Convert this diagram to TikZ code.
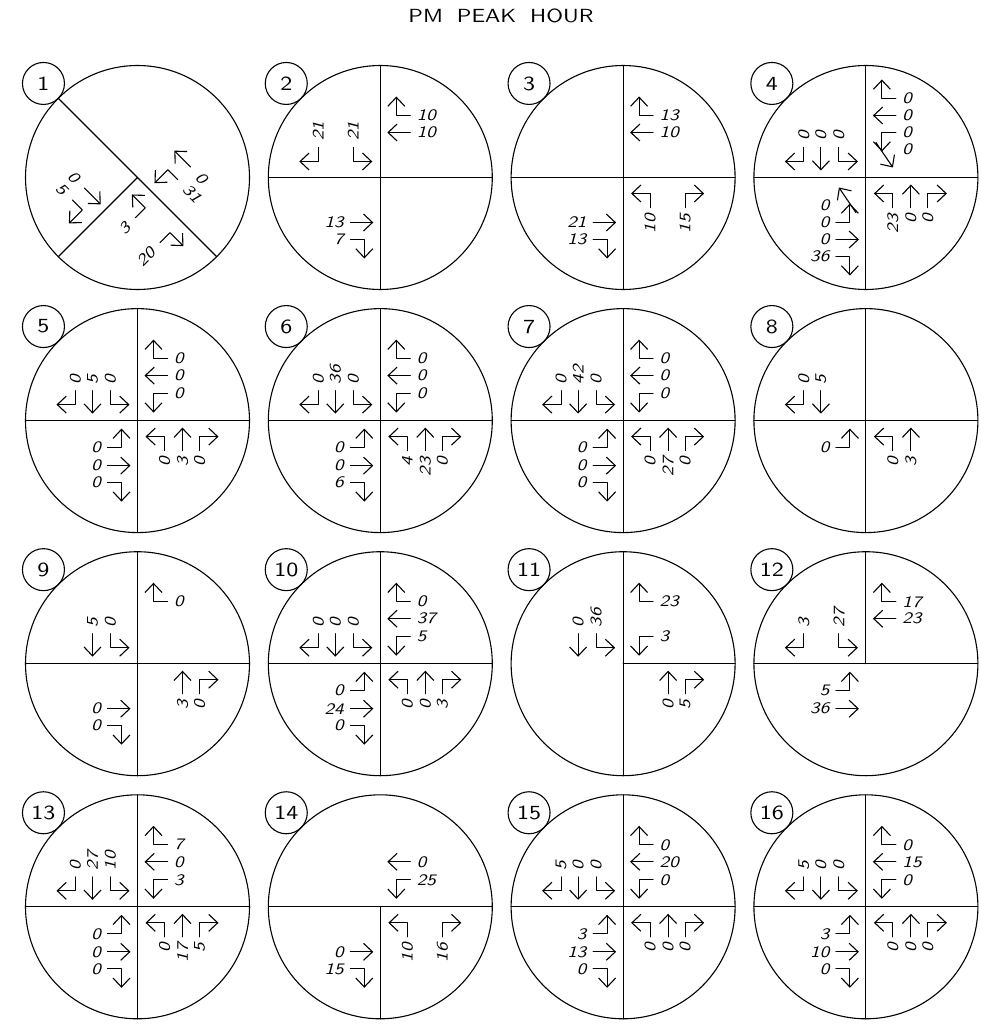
\documentclass[tikz,border=0pt]{standalone}
\usepackage{fontspec}
\newfontfamily\cad{lmsans10-regular.otf}[FakeStretch=1.2, ItalicFont=lmsans10-oblique.otf]
\usetikzlibrary{arrows.meta}
\tikzset{
  ring/.style={circle, draw, minimum size=224pt, inner sep=0pt, outer sep=0pt},
  tag/.style={circle, draw, minimum size=42pt, inner sep=0pt, outer sep=0pt,
    font=\cad\fontsize{20}{20}\selectfont},
  vol/.style={inner sep=0pt, font=\cad\itshape\fontsize{16}{16}\selectfont},
}
% slots of one approach, drawn as southbound (upper left quarter)
\newcommand{\sR}{-62}
\newcommand{\sT}{-45}
\newcommand{\sL}{-27}
\newcommand{\sD}{36}
\newcommand{\rturn}[1]{\draw[->] (#1,30) -- (#1,16) -- ++(-19,0);}
\newcommand{\lturn}[1]{\draw[->] (#1,30) -- (#1,16) -- ++(19,0);}
\newcommand{\thru}[1]{\draw[->] (#1,30) -- (#1,7);}
\newcommand{\ifgiven}[2]{\if\relax\detokenize{#1}\relax\else#2\fi}
% rotation, label style, right, through, left
\newcommand{\approach}[5]{%
  \begin{scope}[rotate=#1]
    \ifgiven{#3}{\rturn{\sR}\node[vol,#2] at (\sR,\sD) {#3};}
    \ifgiven{#4}{\thru{\sT}\node[vol,#2] at (\sT,\sD) {#4};}
    \ifgiven{#5}{\lturn{\sL}\node[vol,#2] at (\sL,\sD) {#5};}
  \end{scope}}
\newcommand{\sbd}[3]{\approach{0}{rotate=90,anchor=west}{#1}{#2}{#3}}
\newcommand{\ebd}[3]{\approach{90}{anchor=east}{#1}{#2}{#3}}
\newcommand{\nbd}[3]{\approach{180}{rotate=90,anchor=east}{#1}{#2}{#3}}
\newcommand{\wbd}[3]{\approach{270}{anchor=west}{#1}{#2}{#3}}
\newcommand{\diagmv}[3]{%
  \begin{scope}[rotate=#1]
    \draw[->] (-35,10) -- (-10,27);
    \node[vol,#2] at (-28,\sD) {#3};
  \end{scope}}
% name, number, centre
\newcommand{\ring}[3]{%
  \node[ring] (#1) at (#3) {};
  \node[tag, anchor=south east] (#1t) at (#1.north west) {#2};}
\newcommand{\quads}[1]{\draw (#1.west) -- (#1.east) (#1.north) -- (#1.south);}

\begin{document}
\begin{tikzpicture}[x=1pt, y=1pt, line width=1.1pt, line cap=round, line join=round,
    >={Straight Barb[length=9pt,width=17pt]}]
  \useasboundingbox (0,0) rectangle (980,-1024);
  \node[font=\cad\fontsize{19}{19}\selectfont] (title) at (501,-16)
    {PM\hspace{14pt}PEAK\hspace{14pt}HOUR};

  % row 1
  \ring{c1}{1}{137.5,-177.5}
  \draw (c1.north west) -- (c1.south east) (c1.center) -- (c1.south west);
  \begin{scope}[shift={(c1.center)}, rotate=45]
    \def\sD{40}
    \approach{0}{rotate=-45,anchor=east}{5}{0}{}
    \approach{90}{rotate=45,anchor=east}{20}{}{3}
    \approach{180}{rotate=-45,anchor=west}{}{0}{31}
  \end{scope}

  \ring{c2}{2}{380.3,-177.5}
  \quads{c2}
  \begin{scope}[shift={(c2.center)}]
    \sbd{21}{}{21} \wbd{10}{10}{} \ebd{7}{13}{}
  \end{scope}

  \ring{c3}{3}{623.1,-177.5}
  \quads{c3}
  \begin{scope}[shift={(c3.center)}]
    \wbd{13}{10}{} \ebd{13}{21}{} \nbd{15}{}{10}
  \end{scope}

  \ring{c4}{4}{865.9,-177.5}
  \quads{c4}
  \begin{scope}[shift={(c4.center)}]
    \sbd{0}{0}{0} \nbd{0}{0}{23}
    \def\sR{-79}\def\sT{-62}\def\sL{-45}
    \ebd{36}{0}{0} \wbd{0}{0}{0}
    \diagmv{90}{anchor=east}{0}
    \diagmv{270}{anchor=west}{0}
  \end{scope}

  % row 2
  \ring{c5}{5}{137.5,-420.6}
  \quads{c5}
  \begin{scope}[shift={(c5.center)}]
    \sbd{0}{5}{0} \wbd{0}{0}{0} \ebd{0}{0}{0} \nbd{0}{3}{0}
  \end{scope}

  \ring{c6}{6}{380.3,-420.6}
  \quads{c6}
  \begin{scope}[shift={(c6.center)}]
    \sbd{0}{36}{0} \wbd{0}{0}{0} \ebd{6}{0}{0} \nbd{0}{23}{4}
  \end{scope}

  \ring{c7}{7}{623.1,-420.6}
  \quads{c7}
  \begin{scope}[shift={(c7.center)}]
    \sbd{0}{42}{0} \wbd{0}{0}{0} \ebd{0}{0}{0} \nbd{0}{27}{0}
  \end{scope}

  \ring{c8}{8}{865.9,-420.6}
  \quads{c8}
  \begin{scope}[shift={(c8.center)}]
    \sbd{0}{5}{} \ebd{}{}{0} \nbd{}{3}{0}
  \end{scope}

  % row 3
  \ring{c9}{9}{137.5,-663.7}
  \quads{c9}
  \begin{scope}[shift={(c9.center)}]
    \sbd{}{5}{0} \wbd{0}{}{} \ebd{0}{0}{} \nbd{0}{3}{}
  \end{scope}

  \ring{c10}{10}{380.3,-663.7}
  \quads{c10}
  \begin{scope}[shift={(c10.center)}]
    \sbd{0}{0}{0} \wbd{0}{37}{5} \ebd{0}{24}{0} \nbd{3}{0}{0}
  \end{scope}

  \ring{c11}{11}{623.1,-663.7}
  \draw (c11.north) -- (c11.south) (c11.center) -- (c11.east);
  \begin{scope}[shift={(c11.center)}]
    \sbd{}{0}{36} \wbd{23}{}{3} \nbd{5}{0}{}
  \end{scope}

  \ring{c12}{12}{865.9,-663.7}
  \draw (c12.west) -- (c12.east) (c12.center) -- (c12.north);
  \begin{scope}[shift={(c12.center)}]
    \sbd{3}{}{27} \wbd{17}{23}{} \ebd{}{36}{5}
  \end{scope}

  % row 4
  \ring{c13}{13}{137.5,-906.8}
  \quads{c13}
  \begin{scope}[shift={(c13.center)}]
    \sbd{0}{27}{10} \wbd{7}{0}{3} \ebd{0}{0}{0} \nbd{5}{17}{0}
  \end{scope}

  \ring{c14}{14}{380.3,-906.8}
  \draw (c14.west) -- (c14.east) (c14.center) -- (c14.south);
  \begin{scope}[shift={(c14.center)}]
    \wbd{}{0}{25} \ebd{15}{0}{} \nbd{16}{}{10}
  \end{scope}

  \ring{c15}{15}{623.1,-906.8}
  \quads{c15}
  \begin{scope}[shift={(c15.center)}]
    \sbd{5}{0}{0} \wbd{0}{20}{0} \ebd{0}{13}{3} \nbd{0}{0}{0}
  \end{scope}

  \ring{c16}{16}{865.9,-906.8}
  \quads{c16}
  \begin{scope}[shift={(c16.center)}]
    \sbd{5}{0}{0} \wbd{0}{15}{0} \ebd{0}{10}{3} \nbd{0}{0}{0}
  \end{scope}
\end{tikzpicture}
\end{document}
